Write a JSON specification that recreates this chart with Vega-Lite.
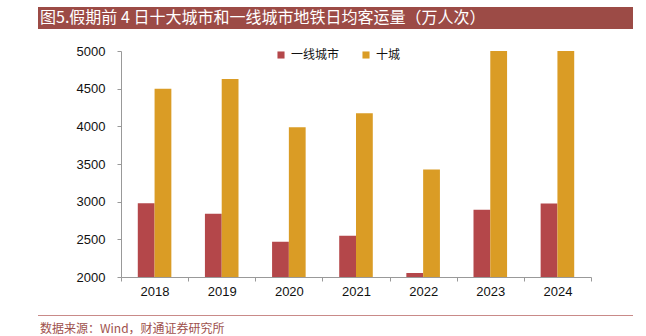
{
  "$schema": "https://vega.github.io/schema/vega-lite/v6.json",
  "padding": {"left": 38, "top": 7, "right": 0, "bottom": 0},
  "background": "white",
  "config": {"view": {"stroke": null}, "font": "Liberation Sans"},
  "columns": 1,
  "align": "none",
  "spacing": 17,
  "concat": [
    {
      "columns": 1,
      "align": "none",
      "spacing": 16,
      "concat": [
        {
          "width": 595,
          "height": 22,
          "data": {"values": [{"部分": "标题栏"}]},
          "mark": {"type": "rect", "color": "#9C4B46"},
          "encoding": {},
          "title": {
            "text": "图5.假期前 4 日十大城市和一线城市地铁日均客运量（万人次）",
            "anchor": "start",
            "offset": -19,
            "dx": 2,
            "color": "white",
            "font": "Noto Sans CJK SC",
            "fontSize": 16,
            "fontWeight": "normal"
          }
        },
        {
          "spacing": 0,
          "hconcat": [
            {
              "width": 0,
              "height": 226,
              "data": {"values": []},
              "mark": "rect",
              "encoding": {}
            },
            {
              "width": 470,
              "height": 226,
              "data": {
                "values": [
                  {"年份": "2018", "类别": "一线城市", "客运量": 2980},
                  {"年份": "2018", "类别": "十城", "客运量": 4500},
                  {"年份": "2019", "类别": "一线城市", "客运量": 2840},
                  {"年份": "2019", "类别": "十城", "客运量": 4627},
                  {"年份": "2020", "类别": "一线城市", "客运量": 2467},
                  {"年份": "2020", "类别": "十城", "客运量": 3987},
                  {"年份": "2021", "类别": "一线城市", "客运量": 2547},
                  {"年份": "2021", "类别": "十城", "客运量": 4173},
                  {"年份": "2022", "类别": "一线城市", "客运量": 2053},
                  {"年份": "2022", "类别": "十城", "客运量": 3427},
                  {"年份": "2023", "类别": "一线城市", "客运量": 2893},
                  {"年份": "2023", "类别": "十城", "客运量": 5000},
                  {"年份": "2024", "类别": "一线城市", "客运量": 2975},
                  {"年份": "2024", "类别": "十城", "客运量": 5000}
                ]
              },
              "mark": {"type": "bar", "clip": true},
              "encoding": {
                "x": {
                  "field": "年份",
                  "type": "nominal",
                  "scale": {"paddingInner": 0, "paddingOuter": 0},
                  "axis": {
                    "title": null,
                    "labelAngle": 0,
                    "tickBand": "extent",
                    "tickSize": 4,
                    "labelPadding": 4,
                    "domainColor": "#999999",
                    "tickColor": "#999999",
                    "labelFontSize": 13,
                    "labelColor": "#111111",
                    "labelFont": "Liberation Sans"
                  }
                },
                "xOffset": {
                  "field": "类别",
                  "sort": ["一线城市", "十城"],
                  "scale": {"paddingInner": 0, "paddingOuter": 1.03}
                },
                "y": {
                  "field": "客运量",
                  "type": "quantitative",
                  "scale": {"domain": [2000, 5000], "zero": false, "nice": false},
                  "axis": {
                    "title": null,
                    "grid": false,
                    "values": [2000, 2500, 3000, 3500, 4000, 4500, 5000],
                    "format": "d",
                    "tickSize": 4,
                    "labelPadding": 12,
                    "minExtent": 63,
                    "domainColor": "#999999",
                    "tickColor": "#999999",
                    "labelFontSize": 13,
                    "labelColor": "#111111",
                    "labelFont": "Liberation Sans"
                  }
                },
                "color": {
                  "field": "类别",
                  "type": "nominal",
                  "sort": ["一线城市", "十城"],
                  "scale": {"domain": ["一线城市", "十城"], "range": ["#B4474A", "#DA9C25"]},
                  "legend": {
                    "title": null,
                    "orient": "none",
                    "legendX": 237,
                    "legendY": 42,
                    "direction": "horizontal",
                    "symbolType": "square",
                    "symbolSize": 50,
                    "symbolStrokeWidth": 0,
                    "labelFont": "Noto Sans CJK SC",
                    "labelFontSize": 12,
                    "labelColor": "#111111",
                    "labelOffset": 4,
                    "columnPadding": 20
                  }
                }
              }
            }
          ]
        }
      ]
    },
    {
      "width": 595,
      "height": 1,
      "data": {"values": [{"部分": "分隔线"}]},
      "mark": {"type": "rect", "color": "#C98A88"},
      "encoding": {},
      "title": {
        "text": "数据来源：Wind，财通证券研究所",
        "orient": "bottom",
        "anchor": "start",
        "offset": 8,
        "dx": 2,
        "color": "#9E514D",
        "font": "Noto Sans CJK SC",
        "fontSize": 12,
        "fontWeight": "normal"
      }
    }
  ]
}
